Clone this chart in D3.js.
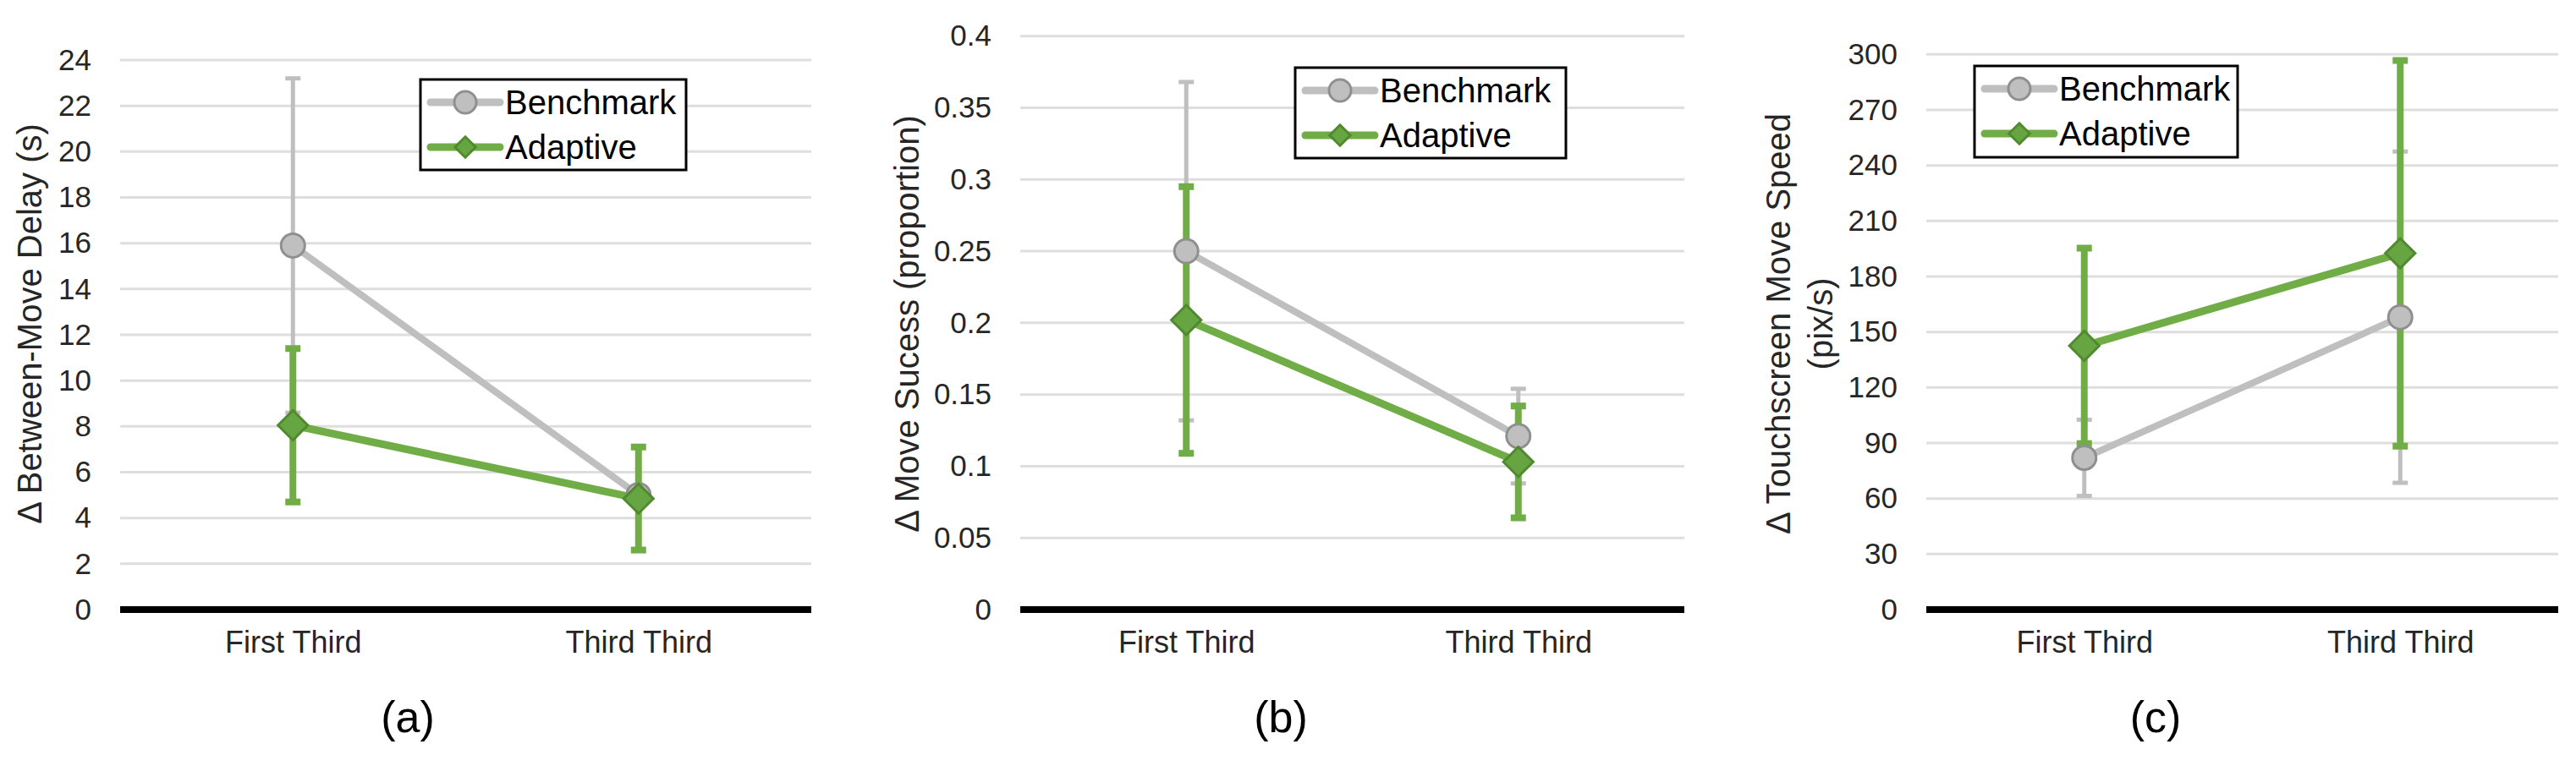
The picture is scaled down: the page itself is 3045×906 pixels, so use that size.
<!DOCTYPE html>
<html>
<head>
<meta charset="utf-8">
<script src="https://cdn.jsdelivr.net/npm/d3@7"></script>
<style>
  html, body { margin: 0; padding: 0; background: #fff; }
  svg { display: block; font-family: "Liberation Sans", Arial, sans-serif; }
</style>
</head>
<body>
<svg id="chart" width="3045" height="906"></svg>
<script>
// categories and series
let categories = ["First Third", "Third Third"];
let seriesNames = ["Benchmark", "Adaptive"];

// (a) between-move delay
let delayBenchmark = [15.9, 5.0];
let delayBenchmarkErr = [7.3, 0.3];
let delayAdaptive = [8.05, 4.85];
let delayAdaptiveErr = [3.35, 2.25];
let delayTicks = [0, 2, 4, 6, 8, 10, 12, 14, 16, 18, 20, 22, 24];

// (b) move success
let successBenchmark = [0.25, 0.121];
let successBenchmarkErr = [0.118, 0.033];
let successAdaptive = [0.202, 0.103];
let successAdaptiveErr = [0.093, 0.039];
let successTicks = [0, 0.05, 0.1, 0.15, 0.2, 0.25, 0.3, 0.35, 0.4];

// (c) touchscreen move speed
let speedBenchmark = [82, 158];
let speedBenchmarkErr = [20.6, 89.5];
let speedAdaptive = [142.5, 192.5];
let speedAdaptiveErr = [52.8, 104.2];
let speedTicks = [0, 30, 60, 90, 120, 150, 180, 210, 240, 270, 300];

let grey = "#bfbfbf", greyDark = "#8f8f8f";
let green = "#70ad47", greenDark = "#4f8a2f";

let panels = [
  { x0: 142, x1: 959, yTop: 71, ticks: delayTicks, bench: delayBenchmark, benchErr: delayBenchmarkErr,
    adapt: delayAdaptive, adaptErr: delayAdaptiveErr, title: ["Δ Between-Move Delay (s)"], titleX: [35],
    legend: { x: 497, y: 94, w: 314, h: 107 }, tag: "(a)", tagX: 482 },
  { x0: 1206, x1: 1991, yTop: 42.7, ticks: successTicks, bench: successBenchmark, benchErr: successBenchmarkErr,
    adapt: successAdaptive, adaptErr: successAdaptiveErr, title: ["Δ Move Sucess (proportion)"], titleX: [1072],
    legend: { x: 1531, y: 80, w: 320, h: 107 }, tag: "(b)", tagX: 1514 },
  { x0: 2277, x1: 3024, yTop: 64.3, ticks: speedTicks, bench: speedBenchmark, benchErr: speedBenchmarkErr,
    adapt: speedAdaptive, adaptErr: speedAdaptiveErr, title: ["Δ Touchscreen Move Speed", "(pix/s)"], titleX: [2102, 2152],
    legend: { x: 2334, y: 78, w: 311, h: 108 }, tag: "(c)", tagX: 2548 }
];

let svg = d3.select("#chart");
let yZero = 721;

let diamond = d3.symbol().type(d3.symbolSquare);

panels.forEach(function(p) {
  let g = svg.append("g");

  let x = d3.scalePoint().domain(categories).range([p.x0, p.x1]).padding(0.5);
  let y = d3.scaleLinear().domain([0, d3.max(p.ticks)]).range([yZero, p.yTop]);

  // gridlines
  g.selectAll("line.grid")
    .data(p.ticks.filter(function(t) { return t > 0; }))
    .enter().append("line")
    .attr("x1", p.x0).attr("x2", p.x1)
    .attr("y1", function(d) { return y(d); })
    .attr("y2", function(d) { return y(d); })
    .attr("stroke", "#dedede")
    .attr("stroke-width", 3);

  // y tick labels
  let yAxis = d3.axisLeft(y).tickValues(p.ticks).tickSize(0).tickPadding(0)
    .tickFormat(function(d) { return String(+d.toFixed(2)); });
  let ya = g.append("g").attr("transform", "translate(" + (p.x0 - 34) + ",0)").call(yAxis);
  ya.select(".domain").remove();
  ya.selectAll("text").attr("font-size", 35).attr("fill", "#262626")
    .attr("font-family", "Liberation Sans, Arial, sans-serif");

  // x axis
  let xAxis = d3.axisBottom(x).tickSize(0).tickPadding(25);
  let xa = g.append("g").attr("transform", "translate(0," + yZero + ")").call(xAxis);
  xa.select(".domain").remove();
  xa.selectAll("text").attr("font-size", 36).attr("fill", "#262626")
    .attr("font-family", "Liberation Sans, Arial, sans-serif");

  g.append("line")
    .attr("x1", p.x0).attr("x2", p.x1)
    .attr("y1", yZero).attr("y2", yZero)
    .attr("stroke", "#000").attr("stroke-width", 8);

  let series = [
    { vals: p.bench, err: p.benchErr, color: grey, errW: 5, lineW: 8 },
    { vals: p.adapt, err: p.adaptErr, color: green, errW: 8, lineW: 9 }
  ];

  // error bars
  series.forEach(function(s) {
    let eb = g.append("g");
    categories.forEach(function(c, i) {
      let cx = x(c), hi = y(s.vals[i] + s.err[i]), lo = y(s.vals[i] - s.err[i]);
      eb.append("line").attr("x1", cx).attr("x2", cx).attr("y1", hi).attr("y2", lo)
        .attr("stroke", s.color).attr("stroke-width", s.errW);
      [hi, lo].forEach(function(yy) {
        eb.append("line").attr("x1", cx - 9).attr("x2", cx + 9).attr("y1", yy).attr("y2", yy)
          .attr("stroke", s.color).attr("stroke-width", s.errW);
      });
    });
  });

  // lines
  let line = d3.line()
    .x(function(d, i) { return x(categories[i]); })
    .y(function(d) { return y(d); });
  series.forEach(function(s) {
    g.append("path").datum(s.vals).attr("d", line)
      .attr("fill", "none").attr("stroke", s.color).attr("stroke-width", s.lineW);
  });

  // markers
  g.selectAll("circle.m").data(p.bench).enter().append("circle")
    .attr("cx", function(d, i) { return x(categories[i]); })
    .attr("cy", function(d) { return y(d); })
    .attr("r", 14)
    .attr("fill", grey).attr("stroke", greyDark).attr("stroke-width", 3);

  g.selectAll("path.m").data(p.adapt).enter().append("path")
    .attr("d", diamond.size(620))
    .attr("transform", function(d, i) { return "translate(" + x(categories[i]) + "," + y(d) + ") rotate(45)"; })
    .attr("fill", "#67a543").attr("stroke", greenDark).attr("stroke-width", 3);

  // y title
  p.title.forEach(function(t, k) {
    g.append("text")
      .attr("transform", "translate(" + p.titleX[k] + ",383) rotate(-90)")
      .attr("text-anchor", "middle").attr("dy", "0.35em")
      .attr("font-size", 40).attr("fill", "#262626")
      .text(t);
  });

  // legend
  let L = p.legend;
  let lg = g.append("g").attr("transform", "translate(" + L.x + "," + L.y + ")");
  lg.append("rect").attr("width", L.w).attr("height", L.h)
    .attr("fill", "#fff").attr("stroke", "#000").attr("stroke-width", 3);
  let rows = [27, 80];
  seriesNames.forEach(function(name, i) {
    let ry = rows[i], col = i === 0 ? grey : green;
    lg.append("line").attr("x1", 12).attr("x2", 94).attr("y1", ry).attr("y2", ry)
      .attr("stroke", col).attr("stroke-width", 9).attr("stroke-linecap", "round");
    if (i === 0) {
      lg.append("circle").attr("cx", 53).attr("cy", ry).attr("r", 13)
        .attr("fill", grey).attr("stroke", greyDark).attr("stroke-width", 3);
    } else {
      lg.append("path").attr("d", diamond.size(300))
        .attr("transform", "translate(53," + ry + ") rotate(45)")
        .attr("fill", "#67a543").attr("stroke", greenDark).attr("stroke-width", 3);
    }
    lg.append("text").attr("x", 100).attr("y", ry).attr("dy", "0.35em")
      .attr("font-size", 40).attr("fill", "#000").text(name);
  });

  // panel tag
  g.append("text").attr("x", p.tagX).attr("y", 866)
    .attr("text-anchor", "middle").attr("font-size", 52).attr("fill", "#000")
    .text(p.tag);
});
</script>
</body>
</html>
